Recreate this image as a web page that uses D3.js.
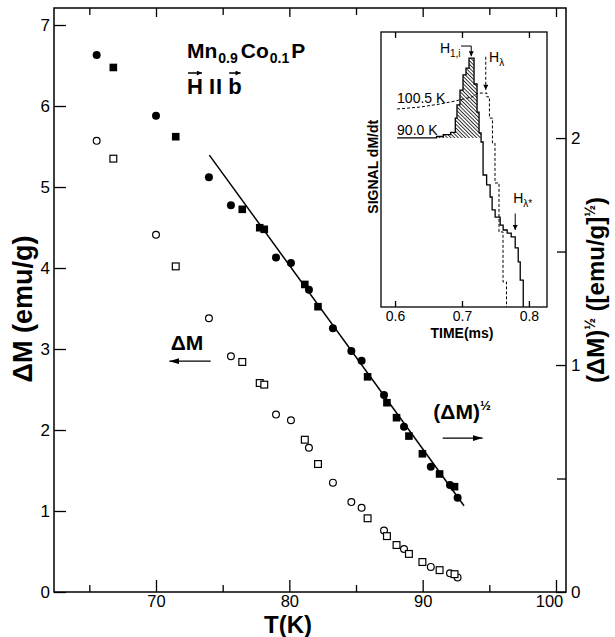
<!DOCTYPE html>
<html><head><meta charset="utf-8">
<script src="https://cdn.jsdelivr.net/npm/d3@7"></script>
<style>
body{margin:0;background:#fff;}
svg text{font-family:"Liberation Sans",Arial,Helvetica,sans-serif;fill:#000;}
</style></head><body>
<svg id="chart" width="615" height="637"></svg>
<script>
// ΔM (open symbols, left axis) and (ΔM)^1/2 (filled symbols, right axis) vs T; circles and squares are two runs
const circleT    = [65.55, 70.0, 73.97, 75.62, 79.0, 80.12, 81.47, 83.27, 84.65, 85.42, 87.1, 88.6, 90.61, 92.05, 92.62];
const circleDM   = [5.57, 4.41, 3.38, 2.91, 2.19, 2.12, 1.78, 1.35, 1.11, 1.04, 0.76, 0.53, 0.31, 0.23, 0.18];
const circleRoot = [2.366, 2.098, 1.827, 1.704, 1.474, 1.449, 1.332, 1.162, 1.062, 1.019, 0.868, 0.728, 0.552, 0.471, 0.415];
const squareT    = [66.8, 71.48, 76.47, 77.78, 78.12, 81.16, 82.15, 85.87, 87.32, 88.04, 88.97, 89.98, 91.27, 92.39];
const squareDM   = [5.35, 4.02, 2.84, 2.58, 2.56, 1.88, 1.58, 0.91, 0.69, 0.58, 0.47, 0.37, 0.27, 0.22];
const squareRoot = [2.311, 2.006, 1.686, 1.605, 1.598, 1.355, 1.257, 0.948, 0.834, 0.768, 0.687, 0.609, 0.520, 0.464];
// straight-line fit through the (ΔM)^1/2 points
const fitT    = [74.0, 93.1];
const fitRoot = [1.925, 0.38];

// axis ticks
const tempMajor = [70, 80, 90, 100];
const tempMinor = [65, 75, 85, 95];
const dmTicks   = [0, 1, 2, 3, 4, 5, 6, 7];
const rootMajor = [0, 1, 2];
const rootMinor = [0.5, 1.5];

// inset: pickup-coil signal dM/dt vs time (arbitrary signal units)
const timeTicks = [0.6, 0.7, 0.8];
// 90.0 K trace, step levels starting at each time
const run90Time   = [0.603, 0.662, 0.672, 0.683, 0.690, 0.6925, 0.697, 0.7015, 0.706, 0.7105, 0.718, 0.7225, 0.7255, 0.7285, 0.7315, 0.7368, 0.742, 0.745, 0.7495, 0.757, 0.7615, 0.7675, 0.7735, 0.7795, 0.784, 0.787, 0.7915];
const run90Signal = [6.15, 6.20, 6.27, 6.35, 6.87, 7.35, 7.89, 8.44, 8.69, 9.05, 8.11, 7.09, 6.33, 6.00, 4.80, 4.44, 4.00, 3.53, 3.27, 2.98, 2.80, 2.69, 2.55, 2.15, 1.64, 0.98, 0];
const run90Base = 6.15;
// 100.5 K trace, vertices
const run100Time   = [0.603, 0.637, 0.667, 0.690, 0.715, 0.724, 0.737, 0.737, 0.741, 0.741, 0.7455, 0.7455, 0.7493, 0.7493, 0.7553, 0.7553, 0.7613, 0.7613, 0.7665, 0.7665];
const run100Signal = [7.20, 7.27, 7.38, 7.49, 7.64, 7.78, 7.78, 7.64, 7.64, 6.87, 6.87, 5.96, 5.96, 4.51, 4.51, 2.73, 2.73, 0.91, 0.91, 0];

const svg = d3.select("#chart");
const FONT = '"Liberation Sans",Arial,Helvetica,sans-serif';

const frame = {left: 54, right: 566, top: 8, bottom: 592};
const x  = d3.scaleLinear().domain([62.35, 100.75]).range([frame.left, frame.right]);
const yL = d3.scaleLinear().domain([0, 7.21]).range([frame.bottom, frame.top]);
const yR = d3.scaleLinear().domain([0, 2.573]).range([frame.bottom, frame.top]);

const defs = svg.append("defs");
defs.append("marker").attr("id", "head").attr("viewBox", "0 0 10 6")
  .attr("refX", 10).attr("refY", 3).attr("markerWidth", 10).attr("markerHeight", 6)
  .attr("markerUnits", "userSpaceOnUse").attr("orient", "auto")
  .append("path").attr("d", "M0,0L10,3L0,6Z").attr("fill", "#000");
defs.append("marker").attr("id", "headSmall").attr("viewBox", "0 0 6 6")
  .attr("refX", 6).attr("refY", 3).attr("markerWidth", 6).attr("markerHeight", 5)
  .attr("markerUnits", "userSpaceOnUse").attr("orient", "auto")
  .append("path").attr("d", "M0,0L6,3L0,6Z").attr("fill", "#000");
defs.append("pattern").attr("id", "hatch").attr("patternUnits", "userSpaceOnUse")
  .attr("width", 2.6).attr("height", 2.6).attr("patternTransform", "rotate(-45)")
  .append("line").attr("x1", 0.5).attr("y1", 0).attr("x2", 0.5).attr("y2", 2.6)
  .attr("stroke", "#000").attr("stroke-width", 0.8);

function styleAxis(g, size) {
  g.attr("font-family", FONT);
  g.select(".domain").remove();
  g.selectAll(".tick line").attr("stroke", "#000").attr("stroke-width", 1.3);
  g.selectAll(".tick text").attr("font-size", size).attr("fill", "#000");
}

// ---- main axes ----
const gb = svg.append("g").attr("transform", `translate(0,${frame.bottom})`)
  .call(d3.axisBottom(x).tickValues(tempMajor).tickSize(-12).tickPadding(3).tickFormat(d3.format("d")));
styleAxis(gb, 16.5);
gb.selectAll(".tick text").filter(d => d === 100).attr("dx", -7);
const gbm = svg.append("g").attr("transform", `translate(0,${frame.bottom})`)
  .call(d3.axisBottom(x).tickValues(tempMinor).tickSize(-7).tickFormat(""));
styleAxis(gbm, 16.5);
const gt = svg.append("g").attr("transform", `translate(0,${frame.top})`)
  .call(d3.axisTop(x).tickValues(tempMajor).tickSize(-9).tickFormat(""));
styleAxis(gt, 16.5);
const gtm = svg.append("g").attr("transform", `translate(0,${frame.top})`)
  .call(d3.axisTop(x).tickValues(tempMinor).tickSize(-7).tickFormat(""));
styleAxis(gtm, 16.5);
const gl = svg.append("g").attr("transform", `translate(${frame.left},0)`)
  .call(d3.axisLeft(yL).tickValues(dmTicks).tickSize(-12).tickPadding(4).tickFormat(d3.format("d")));
styleAxis(gl, 17);
const gr = svg.append("g").attr("transform", `translate(${frame.right},0)`)
  .call(d3.axisRight(yR).tickValues(rootMajor).tickSize(-10).tickPadding(5).tickFormat(d3.format("d")));
styleAxis(gr, 17);
const grm = svg.append("g").attr("transform", `translate(${frame.right},0)`)
  .call(d3.axisRight(yR).tickValues(rootMinor).tickSize(-9).tickFormat(""));
styleAxis(grm, 17);

svg.append("rect").attr("x", frame.left).attr("y", frame.top)
  .attr("width", frame.right - frame.left).attr("height", frame.bottom - frame.top)
  .attr("fill", "none").attr("stroke", "#000").attr("stroke-width", 1.5);

// axis titles
svg.append("text").attr("transform", "translate(32,309) rotate(-90)")
  .attr("text-anchor", "middle").attr("font-size", 27).attr("font-weight", "bold")
  .text("ΔM (emu/g)");
svg.append("text").attr("x", 288).attr("y", 633).attr("text-anchor", "middle")
  .attr("font-size", 24).attr("font-weight", "bold").text("T(K)");
const rl = svg.append("text").attr("transform", "translate(604,290) rotate(-90)")
  .attr("text-anchor", "middle").attr("font-size", 24).attr("font-weight", "bold");
rl.append("tspan").text("(ΔM)");
rl.append("tspan").attr("font-size", 14).attr("dy", -9).text("½");
rl.append("tspan").attr("dy", 9).text(" ([emu/g]");
rl.append("tspan").attr("font-size", 14).attr("dy", -9).text("½");
rl.append("tspan").attr("dy", 9).text(")");

// ---- data ----
const circles = circleT.map((t, i) => ({t, dm: circleDM[i], root: circleRoot[i]}));
const squares = squareT.map((t, i) => ({t, dm: squareDM[i], root: squareRoot[i]}));

svg.append("path")
  .datum(fitT.map((t, i) => [t, fitRoot[i]]))
  .attr("d", d3.line().x(d => x(d[0])).y(d => yR(d[1])))
  .attr("fill", "none").attr("stroke", "#000").attr("stroke-width", 1.5);

svg.append("g").selectAll("circle").data(circles).join("circle")
  .attr("cx", d => x(d.t)).attr("cy", d => yL(d.dm)).attr("r", 3.4)
  .attr("fill", "#fff").attr("stroke", "#000").attr("stroke-width", 1.2);
const sq = 6.8;
svg.append("g").selectAll("rect").data(squares).join("rect")
  .attr("x", d => x(d.t) - sq / 2).attr("y", d => yL(d.dm) - sq / 2)
  .attr("width", sq).attr("height", sq)
  .attr("fill", "#fff").attr("stroke", "#000").attr("stroke-width", 1.2);
svg.append("g").selectAll("circle").data(circles).join("circle")
  .attr("cx", d => x(d.t)).attr("cy", d => yR(d.root)).attr("r", 4).attr("fill", "#000");
const fsq = 7.6;
svg.append("g").selectAll("rect").data(squares).join("rect")
  .attr("x", d => x(d.t) - fsq / 2).attr("y", d => yR(d.root) - fsq / 2)
  .attr("width", fsq).attr("height", fsq).attr("fill", "#000");

// ---- series annotations ----
svg.append("text").attr("x", x(71.1)).attr("y", yL(2.99))
  .attr("font-size", 21).attr("font-weight", "bold").text("ΔM");
svg.append("line").attr("x1", x(74.1)).attr("x2", x(71.0)).attr("y1", yL(2.85)).attr("y2", yL(2.85))
  .attr("stroke", "#000").attr("stroke-width", 1.2).attr("marker-end", "url(#head)");
const ra = svg.append("text").attr("x", x(90.8)).attr("y", yR(0.762))
  .attr("font-size", 21).attr("font-weight", "bold");
ra.append("tspan").text("(ΔM)");
ra.append("tspan").attr("font-size", 13).attr("dy", -9).text("½");
svg.append("line").attr("x1", x(91.5)).attr("x2", x(94.5)).attr("y1", yR(0.678)).attr("y2", yR(0.678))
  .attr("stroke", "#000").attr("stroke-width", 1.2).attr("marker-end", "url(#head)");

// ---- compound / field direction ----
const title = svg.append("text").attr("x", 187).attr("y", 58)
  .attr("font-size", 21).attr("font-weight", "bold");
title.append("tspan").text("Mn");
title.append("tspan").attr("font-size", 14).attr("dy", 5).attr("dx", 1).text("0.9");
title.append("tspan").attr("dy", -5).attr("dx", 3).text("Co");
title.append("tspan").attr("font-size", 14).attr("dy", 5).attr("dx", 1).text("0.1");
title.append("tspan").attr("dy", -5).attr("dx", 2).text("P");

const hx = 187, hy = 94;
const hText = svg.append("text").attr("x", hx).attr("y", hy).attr("font-size", 22).attr("font-weight", "bold").text("H");
const hW = hText.node().getComputedTextLength();
const pText = svg.append("text").attr("x", hx + hW + 6).attr("y", hy).attr("font-size", 22).attr("font-weight", "bold")
  .attr("letter-spacing", 1).text("II");
const pW = pText.node().getComputedTextLength();
const bx = hx + hW + 6 + pW + 5;
const bText = svg.append("text").attr("x", bx).attr("y", hy).attr("font-size", 22).attr("font-weight", "bold").text("b");
const bW = bText.node().getComputedTextLength();
[[hx + 1, hx + hW - 1], [bx + 1, bx + bW - 1]].forEach(([a, b]) => {
  svg.append("line").attr("x1", a).attr("x2", b).attr("y1", 73).attr("y2", 73)
    .attr("stroke", "#000").attr("stroke-width", 1.5).attr("marker-end", "url(#headSmall)");
});

// ---- inset ----
const inset = {left: 381, right: 547, top: 32, bottom: 307};
const tx = d3.scaleLinear().domain([0.579, 0.827]).range([inset.left, inset.right]);
const ty = d3.scaleLinear().domain([0, 10]).range([inset.bottom, inset.top]);

svg.append("rect").attr("x", inset.left).attr("y", inset.top)
  .attr("width", inset.right - inset.left).attr("height", inset.bottom - inset.top)
  .attr("fill", "#fff");

const ib = svg.append("g").attr("transform", `translate(0,${inset.bottom})`)
  .call(d3.axisBottom(tx).tickValues(timeTicks).tickSize(-6).tickPadding(4).tickFormat(d3.format(".1f")));
styleAxis(ib, 14);
const it = svg.append("g").attr("transform", `translate(0,${inset.top})`)
  .call(d3.axisTop(tx).tickValues(timeTicks).tickSize(-6).tickFormat(""));
styleAxis(it, 14);

const run90 = run90Time.map((t, i) => ({t, s: run90Signal[i]}));
const run100 = run100Time.map((t, i) => ({t, s: run100Signal[i]}));

// area of the 90.0 K pulse above its baseline
const hatched = run90.filter(d => d.t >= 0.662 && d.t <= 0.7315);
svg.append("path").datum(hatched)
  .attr("d", d3.area().curve(d3.curveStepAfter)
    .x(d => tx(d.t)).y0(ty(run90Base)).y1(d => ty(Math.max(d.s, run90Base))))
  .attr("fill", "url(#hatch)").attr("stroke", "none");

svg.append("path").datum(run100)
  .attr("d", d3.line().x(d => tx(d.t)).y(d => ty(d.s)))
  .attr("fill", "none").attr("stroke", "#000").attr("stroke-width", 1).attr("stroke-dasharray", "3,2");
svg.append("path").datum(run90)
  .attr("d", d3.line().curve(d3.curveStepAfter).x(d => tx(d.t)).y(d => ty(d.s)))
  .attr("fill", "none").attr("stroke", "#000").attr("stroke-width", 1.3);

svg.append("rect").attr("x", inset.left).attr("y", inset.top)
  .attr("width", inset.right - inset.left).attr("height", inset.bottom - inset.top)
  .attr("fill", "none").attr("stroke", "#000").attr("stroke-width", 1.3);

svg.append("text").attr("x", tx(0.7)).attr("y", 338).attr("text-anchor", "middle")
  .attr("font-size", 14).attr("font-weight", "bold").text("TIME(ms)");
svg.append("text").attr("transform", `translate(378,${ty(5.1)}) rotate(-90)`)
  .attr("text-anchor", "middle").attr("font-size", 14).attr("font-weight", "bold").text("SIGNAL dM/dt");

svg.append("text").attr("x", tx(0.603)).attr("y", ty(7.42)).attr("font-size", 14).text("100.5 K");
svg.append("text").attr("x", tx(0.603)).attr("y", ty(6.25)).attr("font-size", 14).text("90.0 K");

// field markers
const h1 = svg.append("text").attr("x", tx(0.667)).attr("y", ty(9.24)).attr("font-size", 14);
h1.append("tspan").text("H");
h1.append("tspan").attr("font-size", 10).attr("dy", 4).text("1,i");
svg.append("path")
  .attr("d", `M${tx(0.6985)},${ty(9.49)}H${tx(0.7138)}V${ty(9.12)}`)
  .attr("fill", "none").attr("stroke", "#000").attr("stroke-width", 1).attr("marker-end", "url(#headSmall)");

const hl = svg.append("text").attr("x", tx(0.7405)).attr("y", ty(8.91)).attr("font-size", 14);
hl.append("tspan").text("H");
hl.append("tspan").attr("font-size", 10).attr("dy", 4).text("λ");
svg.append("line").attr("x1", tx(0.7355)).attr("x2", tx(0.7355)).attr("y1", ty(9.1)).attr("y2", ty(7.9))
  .attr("stroke", "#000").attr("stroke-width", 1).attr("stroke-dasharray", "3,2").attr("marker-end", "url(#headSmall)");

const hs = svg.append("text").attr("x", tx(0.7765)).attr("y", ty(3.8)).attr("font-size", 14);
hs.append("tspan").text("H");
hs.append("tspan").attr("font-size", 10).attr("dy", 4).text("λ*");
svg.append("line").attr("x1", tx(0.7795)).attr("x2", tx(0.7795)).attr("y1", ty(3.4)).attr("y2", ty(2.8))
  .attr("stroke", "#000").attr("stroke-width", 1).attr("marker-end", "url(#headSmall)");
</script>
</body></html>
